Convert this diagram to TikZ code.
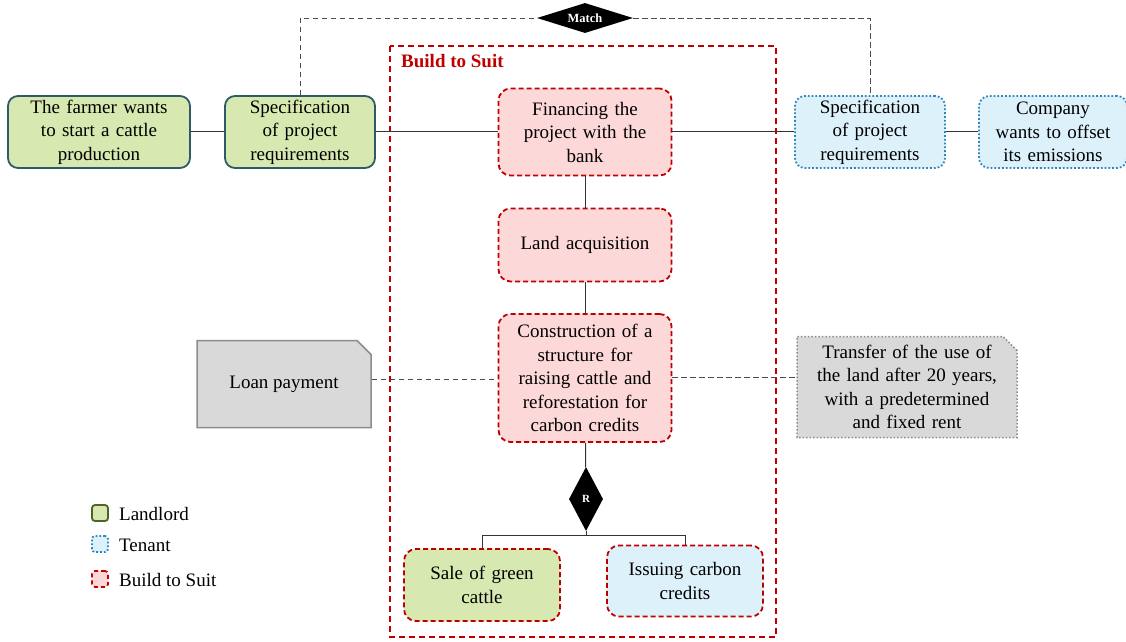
\documentclass[tikz,border=0pt]{standalone}
\usepackage{fontspec}
\setmainfont{Liberation Serif}
\usetikzlibrary{shapes.geometric,shapes.misc}
\definecolor{lgreen}{HTML}{D7E8B0}
\definecolor{lgborder}{HTML}{2F5B68}
\definecolor{lgleg}{HTML}{4F6228}
\definecolor{tblue}{HTML}{DDF1FB}
\definecolor{tborder}{HTML}{2E86C1}
\definecolor{bpink}{HTML}{FDD8D9}
\definecolor{bred}{HTML}{C00000}
\definecolor{gfill}{HTML}{D9D9D9}
\definecolor{gborder}{HTML}{8C8C8C}
\begin{document}
\begin{tikzpicture}[x=1pt,y=-1pt,
  every node/.style={font=\fontsize{19}{23.5}\selectfont, align=center, inner sep=0pt},
  lord/.style={draw=lgborder, line width=1.8pt, fill=lgreen, rounded corners=10pt, minimum width=#1, minimum height=72pt, text width=#1-6pt},
  ten/.style={draw=tborder, line width=1.8pt, dotted, fill=tblue, rounded corners=10pt, minimum width=#1, minimum height=72pt, text width=#1-6pt},
  bts/.style={draw=bred, line width=1.8pt, dash pattern=on 5pt off 3pt, fill=bpink, rounded corners=12pt, minimum width=173pt, text width=168pt},
  note/.style={chamfered rectangle, chamfered rectangle corners=north east, chamfered rectangle xsep=7pt, chamfered rectangle ysep=7pt, fill=gfill, line width=1.5pt},
  link/.style={draw=black!80, line width=1pt},
  dlink/.style={draw=black!70, line width=1pt, dash pattern=on 5.5pt off 3.5pt},
]
\useasboundingbox (0,0) rectangle (1126,641);
% Build to Suit frame
\draw[bred, line width=1.8pt, dash pattern=on 6pt off 4pt] (390,46) rectangle (776,637);
\node[anchor=west, text=bred, font=\fontsize{19}{23}\selectfont\bfseries] (btslabel) at (401,61) {Build to Suit};

% top row
\node[lord=182pt] (farmer) at (99,132) {The farmer wants\\to start a cattle\\production};
\node[lord=150pt] (specL) at (300,132) {Specification\\of project\\requirements};
\node[bts, minimum height=87pt] (fin) at (585,132) {Financing the\\project with the\\bank};
\node[ten=150pt] (specT) at (870,132) {Specification\\of project\\requirements};
\node[ten=148pt] (comp) at (1053,132) {Company\\wants to offset\\its emissions};

% vertical chain
\node[bts, minimum height=73pt] (land) at (585,245) {Land acquisition};
\node[bts, minimum height=128pt] (cons) at (585,378) {Construction of a\\structure for\\raising cattle and\\reforestation for\\carbon credits};
\node[diamond, fill=black, minimum width=34pt, minimum height=64pt, text=white, font=\fontsize{11}{12}\selectfont\bfseries] (R) at (586,499) {R};
\node[bts, fill=lgreen, minimum width=156pt, text width=150pt, minimum height=72pt] (sale) at (482,585) {Sale of green\\cattle};
\node[bts, fill=tblue, minimum width=156pt, text width=150pt, minimum height=71pt] (issue) at (685,581) {Issuing carbon\\credits};

% notes
\node[note, draw=gborder, minimum width=174pt, minimum height=87pt] (loan) at (284,384) {Loan payment};
\node[note, draw=gborder, dotted, minimum width=220pt, minimum height=101pt, text width=200pt] (transfer) at (907,387) {Transfer of the use of\\the land after 20 years,\\with a predetermined\\and fixed rent};

% match
\node[diamond, fill=black, minimum width=96pt, minimum height=30pt, aspect=3.2, text=white, font=\fontsize{12.5}{14}\selectfont\bfseries] (match) at (585,18) {Match};

% connectors
\draw[link] (farmer.east |- 0,131) -- (specL.west |- 0,131);
\draw[link] (specL.east |- 0,131) -- (fin.west |- 0,131);
\draw[link] (fin.east |- 0,131) -- (specT.west |- 0,131);
\draw[link] (specT.east |- 0,131) -- (comp.west |- 0,131);
\draw[link] (fin) -- (land);
\draw[link] (land) -- (cons);
\draw[link] (cons) -- (R);
\coordinate (br) at (586,535);
\draw[link] (R.south) -- (br);
\draw[link] (br) -| (sale.north);
\draw[link] (br) -| (issue.north);
\draw[dlink] (loan.east |- 0,379) -- (cons.west |- 0,379);
\draw[dlink] (cons.east |- 0,377) -- (transfer.west |- 0,377);
\draw[dlink] (specL.north) |- (match.west);
\draw[dlink] (match.east) -| (specT.north);

% legend
\node[draw=lgleg, line width=1.8pt, fill=lgreen, rounded corners=3pt, minimum size=16pt] (lg1) at (100,513) {};
\node[anchor=west] (lt1) at (119,514) {Landlord};
\node[draw=tborder, line width=1.8pt, dotted, fill=tblue, rounded corners=3pt, minimum size=16pt] (lg2) at (100,544) {};
\node[anchor=west] (lt2) at (119,545) {Tenant};
\node[draw=bred, line width=1.8pt, dash pattern=on 4pt off 3pt, fill=bpink, rounded corners=3pt, minimum size=16pt] (lg3) at (100,579) {};
\node[anchor=west] (lt3) at (119,580) {Build to Suit};
\end{tikzpicture}
\end{document}
